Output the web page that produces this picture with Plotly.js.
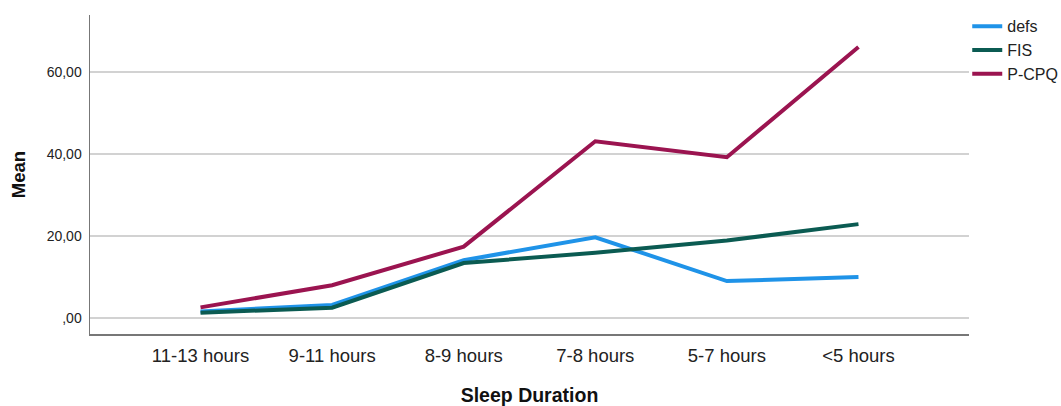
<!DOCTYPE html>
<html>
<head>
<meta charset="utf-8">
<script src="https://cdn.plot.ly/plotly-3.0.1.min.js"></script>
<style>html,body{margin:0;padding:0;background:#fff;}#chart{width:1061px;height:406px;}</style>
</head>
<body>
<div id="chart"></div>
<script>
const categories = ["11-13 hours", "9-11 hours", "8-9 hours", "7-8 hours", "5-7 hours", "<5 hours"];
const defs = [1.6, 3.2, 14.1, 19.7, 9.0, 10.0];
const fis = [1.3, 2.5, 13.4, 15.9, 18.9, 22.9];
const pcpq = [2.6, 8.0, 17.4, 43.1, 39.2, 66.1];
const yTickVals = [0, 20, 40, 60];
const yTickText = [",00", "20,00", "40,00", "60,00"];

const xIdx = categories.map((c, i) => i);
function tr(name, y, color) {
  return {x: xIdx, y: y, name: name, type: 'scatter', mode: 'lines',
          line: {color: color, width: 4}};
}
const data = [
  tr("defs", defs, "#1f93e8"),
  tr("FIS", fis, "#0b5b52"),
  tr("P-CPQ", pcpq, "#9b1450")
];
const layout = {
  width: 1061, height: 406,
  margin: {l: 90, r: 92, t: 15, b: 72, autoexpand: false},
  paper_bgcolor: '#fff', plot_bgcolor: '#fff',
  font: {family: 'Liberation Sans, Arial, sans-serif', color: '#222'},
  showlegend: true,
  legend: {x: 0.998, y: 1.018, xanchor: 'left', yanchor: 'top',
           font: {size: 16, color: '#222'}, tracegroupgap: 0, itemwidth: 30,
           bgcolor: 'rgba(0,0,0,0)'},
  xaxis: {
    range: [-0.84, 5.84], tickvals: xIdx, ticktext: categories,
    showgrid: false, zeroline: false, showline: true, linecolor: '#777', linewidth: 1.5,
    ticks: '', tickfont: {size: 18.5, color: '#222'}, ticklabelstandoff: 4,
    title: {text: '<b>Sleep Duration</b>', font: {size: 19.5, color: '#111'}, standoff: 26}
  },
  yaxis: {
    range: [-3.9, 73.9], tickvals: yTickVals, ticktext: yTickText,
    showgrid: true, gridcolor: '#d2d2d2', gridwidth: 1.5, zeroline: false,
    showline: true, linecolor: '#777', linewidth: 1.5,
    ticks: '', tickfont: {size: 14, color: '#222'}, ticklabelstandoff: 4,
    title: {text: '<b>Mean</b>', font: {size: 18.5, color: '#111'}, standoff: 16}
  }
};
Plotly.newPlot('chart', data, layout, {displayModeBar: false, staticPlot: true});
</script>
</body>
</html>
